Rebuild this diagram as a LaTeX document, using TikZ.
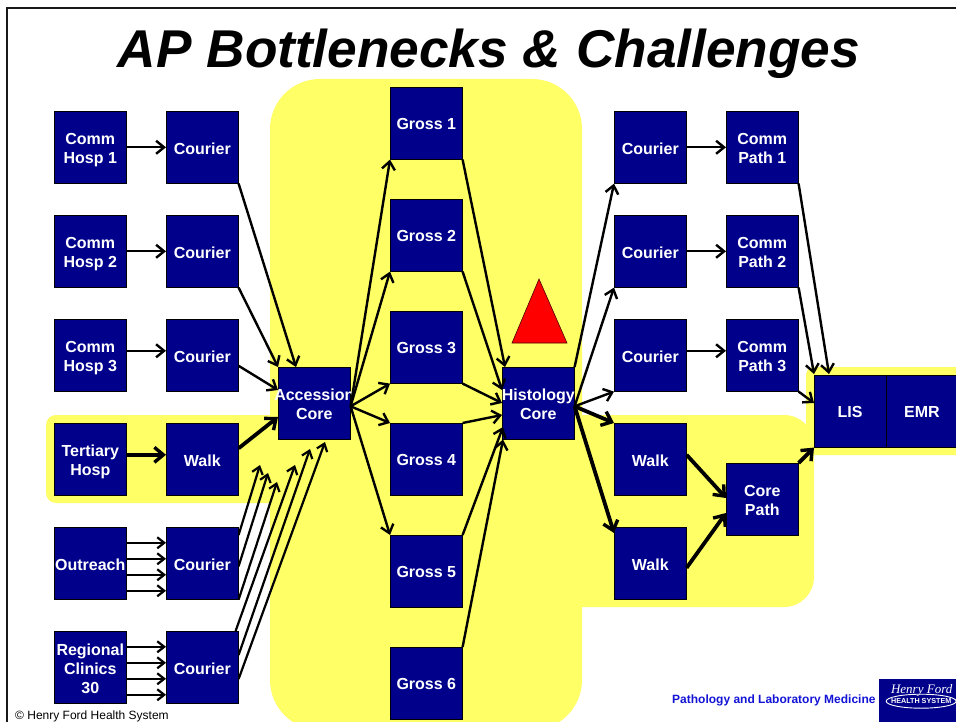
\documentclass[tikz,border=0pt]{standalone}
\usepackage{fontspec}
\setmainfont{Liberation Sans}
\newfontfamily\logofont{Liberation Serif}
\usetikzlibrary{arrows.meta,calc}
\definecolor{hfnavy}{RGB}{0,0,139}
\definecolor{hfyellow}{RGB}{255,255,102}
\definecolor{hfblue}{RGB}{20,20,215}
\tikzset{
  box/.style={draw=black,line width=0.8pt,fill=hfnavy,minimum width=72.6pt,minimum height=72.6pt,inner sep=0pt,outer sep=0pt,anchor=north west},
  boxtext/.style={text=white,inner sep=0pt,outer sep=0pt,align=center,text depth=0pt,yshift=-1pt,font=\fontsize{16}{19}\selectfont\bfseries},
  band/.style={fill=hfyellow,draw=none,rounded corners=#1},
  conn/.style={draw=black,line width=2.4pt,-{Straight Barb[length=8pt,width=13pt,line width=2.4pt]}},
  slim/.style={draw=black,line width=2.2pt,-{Straight Barb[length=7pt,width=11pt,line width=2.2pt]}},
  heavy/.style={draw=black,line width=3.8pt,-{Straight Barb[length=9pt,width=15pt,line width=3.4pt]}},
}
\newcommand{\bx}[4][]{\node[box,#1,label={[boxtext]center:{#4}}] (#2) at (#3) {};}
\begin{document}
\begin{tikzpicture}[x=1pt,y=-1pt]
\useasboundingbox (0,0) rectangle (956,722);
\fill[white] (0,0) rectangle (956,722);
% yellow bands
\begin{scope}
\clip (0,0) rectangle (956,722);
\fill[band=10pt] (46,415) rectangle (300,503);
\fill[band=50pt] (270,79) rectangle (582,730);
\fill[band=30pt] (500,415) rectangle (814,607);
\fill[band=8pt] (806,367) rectangle (1000,455);
\end{scope}
% frame
\draw[black!90,line width=2pt] (7,722) -- (7,8) -- (956,8);
% title
\node[anchor=base,font=\fontsize{53.2}{60}\selectfont\bfseries\itshape,inner sep=0pt] (title) at (489,68) {AP Bottlenecks \& Challenges};
% boxes
\bx{h1}{54,111}{Comm\\Hosp 1}
\bx{h2}{54,215}{Comm\\Hosp 2}
\bx{h3}{54,319}{Comm\\Hosp 3}
\bx{tert}{54,423}{Tertiary\\Hosp}
\bx{out}{54,527}{Outreach}
\bx{reg}{54,631}{Regional\\Clinics\\30}
\bx{c1}{166,111}{Courier}
\bx{c2}{166,215}{Courier}
\bx{c3}{166,319}{Courier}
\bx{wl}{166,423}{Walk}
\bx{c4}{166,527}{Courier}
\bx{c5}{166,631}{Courier}
\bx{g1}{390,87}{Gross 1}
\bx{g2}{390,199}{Gross 2}
\bx{g3}{390,311}{Gross 3}
\bx{g4}{390,423}{Gross 4}
\bx{g5}{390,535}{Gross 5}
\bx{g6}{390,647}{Gross 6}
\bx{r1}{614,111}{Courier}
\bx{r2}{614,215}{Courier}
\bx{r3}{614,319}{Courier}
\bx{w1}{614,423}{Walk}
\bx{w2}{614,527}{Walk}
\bx{p1}{726,111}{Comm\\Path 1}
\bx{p2}{726,215}{Comm\\Path 2}
\bx{p3}{726,319}{Comm\\Path 3}
\bx{core}{726,463}{Core\\Path}
\bx[minimum width=72pt]{lis}{814,375}{LIS}
\bx[minimum width=72pt]{emr}{886,375}{EMR}
\bx{acc}{278,367}{Accession\\Core}
\bx{hist}{502,367}{Histology\\Core}
% triangle
\draw[fill=red,draw=black!70!red,line width=0.6pt] (539,279) -- (567,343) -- (512,343) -- cycle;
% free ends
\coordinate (a1) at (260,465);
\coordinate (a2) at (268,473);
\coordinate (a3) at (277,482);
\coordinate (a4) at (295,465);
\coordinate (a5) at (310,449);
\coordinate (a6) at (325,442);
\coordinate (acr) at ($(acc.east)+(0,3)$);
\coordinate (hir) at ($(hist.east)+(0,3)$);
% connectors left
\draw[conn] (h1.east) -- (c1.west);
\draw[conn] (h2.east) -- (c2.west);
\draw[conn] ([yshift=4.5pt]h3.east) -- ([yshift=4.5pt]c3.west);
\draw[heavy] ([yshift=4.5pt]tert.east) -- ([yshift=4.5pt]wl.west);
\foreach \d in {20.5,4.5,-11.5,-27.5}{
  \draw[slim] ([yshift=\d pt]out.east) -- ([yshift=\d pt]c4.west);
  \draw[slim] ([yshift=\d pt]reg.east) -- ([yshift=\d pt]c5.west);
}
\draw[conn] (c1.south east) -- ([xshift=18pt]acc.north west);
\draw[conn] (c2.south east) -- (acc.north west);
\draw[conn] ([yshift=-10.5pt]c3.east) -- ([yshift=-23pt]acc.north west);
\draw[heavy] ([yshift=11pt]wl.east) -- ([yshift=-50pt]acc.north west);
\draw[slim] ([yshift=-8pt]c4.north east) -- (a1);
\draw[slim] ([yshift=-3pt]c4.east) -- (a2);
\draw[slim] (c4.south east) -- (a3);
\draw[slim] ([xshift=-3pt]c5.north east) -- (a4);
\draw[slim] ([yshift=-24pt]c5.north east) -- (a5);
\draw[slim] ([yshift=-48pt]c5.north east) -- (a6);
% fan out from accession
\draw[conn] (acr) -- (g1.south west);
\draw[conn] (acr) -- (g2.south west);
\draw[conn] (acr) -- (g3.south west);
\draw[conn] (acr) -- (g4.north west);
\draw[conn] (acr) -- (g5.north west);
% into histology
\draw[conn] (g1.south east) -- ([xshift=3pt]hist.north west);
\draw[conn] (g2.south east) -- ([yshift=-23pt]hist.north west);
\draw[conn] (g3.south east) -- ([yshift=-36pt]hist.north west);
\draw[conn] (g4.north east) -- ([yshift=-48pt]hist.north west);
\draw[conn] (g5.north east) -- ([xshift=1pt,yshift=-60pt]hist.north west);
\draw[conn] (g6.north east) -- ([xshift=1pt]hist.south west);
% fan out from histology
\draw[conn] (hist.north east) -- (r1.south west);
\draw[conn] (hir) -- (r2.south west);
\draw[conn] (hir) -- (r3.south west);
\draw[heavy] (hir) -- (w1.north west);
\draw[heavy] (hir) -- ([yshift=-6pt]w2.north west);
% right
\draw[conn] (r1.east) -- (p1.west);
\draw[conn] (r2.east) -- (p2.west);
\draw[conn] ([yshift=4.5pt]r3.east) -- ([yshift=4.5pt]p3.west);
\draw[conn] (p1.south east) -- ([xshift=15pt,yshift=1pt]lis.north west);
\draw[conn] (p2.south east) -- ([yshift=1pt]lis.north west);
\draw[conn] (p3.south east) -- ([yshift=-28pt]lis.north west);
\draw[heavy] (core.north east) -- (lis.south west);
\draw[heavy] ([yshift=4.5pt]w1.east) -- ([yshift=-35pt]core.north west);
\draw[heavy] ([yshift=-4.5pt]w2.east) -- ([yshift=-50pt]core.north west);
% footer
\node[anchor=west,inner sep=0pt,font=\fontsize{12}{14}\selectfont] (copy) at (15,716) {© Henry Ford Health System};
\node[anchor=west,inner sep=0pt,text=hfblue,font=\fontsize{12}{14}\selectfont\bfseries] (path) at (672,700) {Pathology and Laboratory Medicine};
\node[anchor=north west,fill=hfnavy,minimum width=77pt,minimum height=43pt,inner sep=0pt] (logo) at (879,679) {};
\draw[white,line width=0.9pt] ($(logo.center)+(3.5,0.5)$) ellipse[x radius=35pt,y radius=7pt];
\node[text=white,inner sep=0pt,font=\logofont\fontsize{13}{14}\selectfont\itshape] (lg1) at ($(logo.center)+(4,-10)$) {Henry Ford};
\node[text=white,inner sep=0pt,font=\fontsize{7.2}{8}\selectfont\bfseries] (lg2) at ($(logo.center)+(3.5,0.5)$) {HEALTH SYSTEM};
\end{tikzpicture}
\end{document}
